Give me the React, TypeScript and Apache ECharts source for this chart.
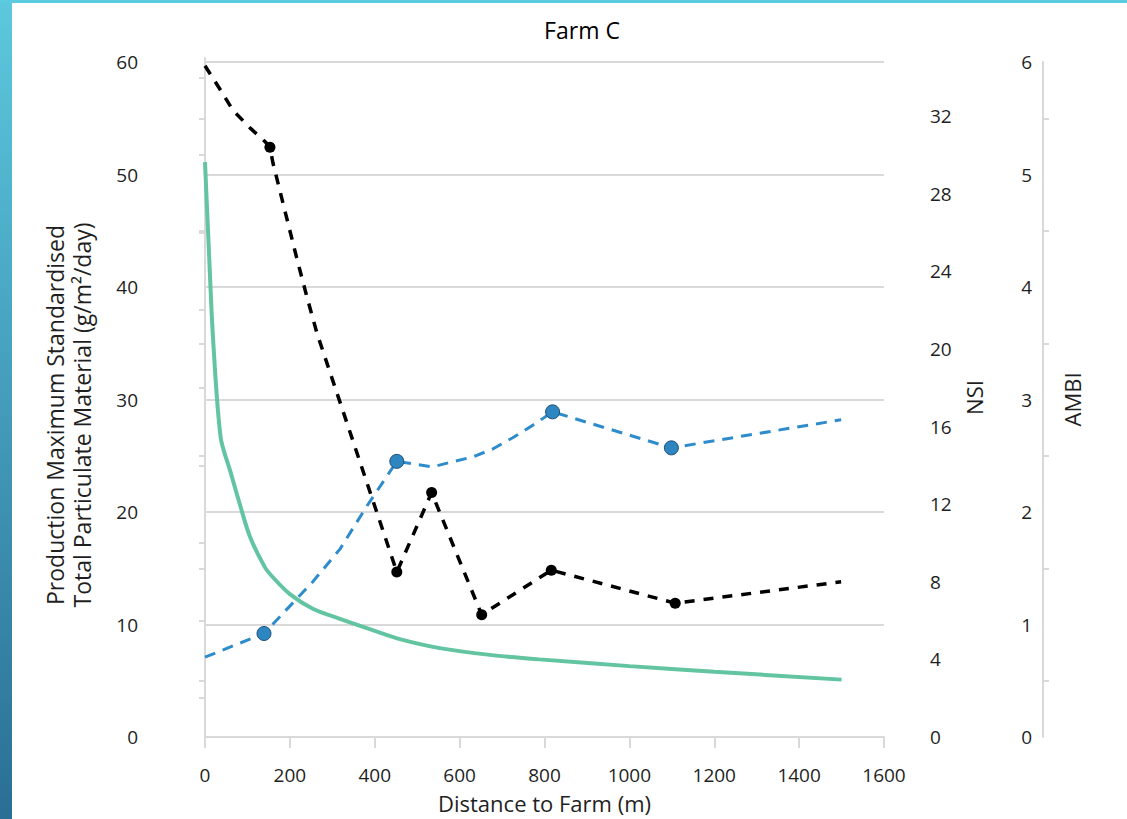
import React, { useEffect, useRef } from 'react';
import * as echarts from 'echarts';

const chartTitle = 'Farm C';
const xAxisName = 'Distance to Farm (m)';
const leftAxisName = 'Production Maximum Standardised\nTotal Particulate Material (g/m²/day)';
const nsiAxisName = 'NSI';
const ambiAxisName = 'AMBI';

// Total particulate material curve (left axis)
const ptpmX = [0, 9, 19, 37, 59, 82, 106, 141, 160, 200, 254, 318, 395, 459, 553, 671, 788, 1000, 1200, 1500];
const ptpmY = [51.1, 43.4, 35.4, 26.6, 23.7, 20.7, 17.8, 15.1, 14.2, 12.7, 11.4, 10.5, 9.5, 8.7, 7.9, 7.3, 6.9, 6.3, 5.8, 5.1];

// NSI (black dashed)
const nsiLineX = [0, 35, 66, 106, 141, 153, 160, 184, 216, 240, 264, 452, 534, 652, 816, 1108, 1499];
const nsiLineY = [34.6, 33.4, 32.3, 31.4, 30.7, 30.4, 29.6, 27.5, 24.7, 22.7, 20.8, 8.5, 12.6, 6.3, 8.6, 6.9, 8.0];
const nsiMarkX = [153, 452, 534, 652, 816, 1108];
const nsiMarkY = [30.4, 8.5, 12.6, 6.3, 8.6, 6.9];

// AMBI (blue dashed)
const ambiLineX = [0, 139, 254, 318, 381, 452, 536, 576, 631, 678, 725, 772, 819, 1099, 1499];
const ambiLineY = [0.71, 0.92, 1.38, 1.67, 2.05, 2.45, 2.40, 2.44, 2.49, 2.56, 2.66, 2.77, 2.89, 2.57, 2.82];
const ambiMarkX = [139, 452, 819, 1099];
const ambiMarkY = [0.92, 2.45, 2.89, 2.57];

const nsiTickValues = [2, 6, 10, 14, 18, 22, 26, 30, 34];
const nsiLabelValues = [0, 4, 8, 12, 16, 20, 24, 28, 32];

const zip = (xs: number[], ys: number[]) => xs.map((x, i) => [x, ys[i]]);

const FONT = 'Open Sans';
const AXIS_COLOR = '#d9d9d9';
const LABEL_COLOR = '#1f1f1f';

export default function App() {
  const ref = useRef<HTMLDivElement>(null);

  useEffect(() => {
    document.body.style.margin = '0';
    if (!ref.current) return;
    const chart = echarts.init(ref.current, undefined, { renderer: 'svg' });

    const axisLine = { show: true, lineStyle: { color: AXIS_COLOR, width: 2 } };
    const axisLabel = { color: LABEL_COLOR, fontSize: 19, fontFamily: FONT };
    const nameStyle = { color: LABEL_COLOR, fontSize: 22, fontFamily: FONT };

    chart.setOption({
      animation: false,
      backgroundColor: '#ffffff',
      textStyle: { fontFamily: FONT },
      graphic: [
        {
          type: 'rect',
          shape: { x: 0, y: 0, width: 12, height: 819 },
          style: {
            fill: new echarts.graphic.LinearGradient(0, 0, 0, 1, [
              { offset: 0, color: '#5cc8de' },
              { offset: 1, color: '#2a6f95' },
            ]),
          },
          silent: true,
        },
        {
          type: 'rect',
          shape: { x: 0, y: 0, width: 1127, height: 3 },
          style: { fill: '#5ccbe0' },
          silent: true,
        },
        {
          type: 'text',
          x: 582,
          y: 30,
          style: {
            text: chartTitle,
            fontSize: 23,
            fontFamily: FONT,
            fill: '#000000',
            align: 'center',
            verticalAlign: 'middle',
          },
        },
        {
          type: 'text',
          x: 68,
          y: 415,
          rotation: Math.PI / 2,
          style: {
            text: leftAxisName,
            fontSize: 23,
            lineHeight: 27,
            fontFamily: FONT,
            fill: LABEL_COLOR,
            align: 'center',
            verticalAlign: 'middle',
          },
        },
      ],
      grid: [
        { left: 205, right: 243, top: 62, bottom: 78, containLabel: false },
        { left: 205, right: 243, top: 58, bottom: 82, containLabel: false },
      ],
      xAxis: [
        {
          type: 'value',
          gridIndex: 0,
          min: 0,
          max: 1600,
          interval: 200,
          axisLine,
          axisTick: { show: true, length: 11, lineStyle: { color: AXIS_COLOR, width: 2 } },
          axisLabel: { ...axisLabel, margin: 28, formatter: (v: number) => String(v) },
          splitLine: { show: false },
          name: xAxisName,
          nameLocation: 'middle',
          nameGap: 55,
          nameTextStyle: nameStyle,
        },
        {
          type: 'value',
          gridIndex: 1,
          min: 0,
          max: 1600,
          show: false,
        },
      ],
      yAxis: [
        {
          type: 'value',
          gridIndex: 0,
          position: 'left',
          offset: 54,
          min: 0,
          max: 60,
          interval: 10,
          axisLine,
          axisTick: { show: false },
          minorTick: { show: true, splitNumber: 2, length: 6, lineStyle: { color: AXIS_COLOR, width: 2 } },
          axisLabel: { ...axisLabel, margin: 13 },
          splitLine: { show: true, lineStyle: { color: AXIS_COLOR, width: 2 } },
        },
        {
          type: 'value',
          gridIndex: 1,
          position: 'right',
          offset: 35,
          min: 0,
          max: 35,
          axisLine,
          axisTick: {
            show: true,
            inside: true,
            length: 6,
            customValues: nsiTickValues,
            lineStyle: { color: AXIS_COLOR, width: 2 },
          },
          axisLabel: { ...axisLabel, margin: 11, customValues: nsiLabelValues },
          splitLine: { show: false },
          name: nsiAxisName,
          nameLocation: 'middle',
          nameGap: 37,
          nameTextStyle: nameStyle,
        },
        {
          type: 'value',
          gridIndex: 0,
          position: 'right',
          offset: 159,
          min: 0,
          max: 6,
          interval: 1,
          axisLine,
          axisTick: { show: false },
          minorTick: { show: true, splitNumber: 2, length: 6, lineStyle: { color: AXIS_COLOR, width: 2 } },
          axisLabel: { ...axisLabel, margin: 11, inside: true },
          splitLine: { show: false },
          name: ambiAxisName,
          nameLocation: 'middle',
          nameGap: 18,
          nameTextStyle: nameStyle,
        },
      ],
      series: [
        {
          name: 'Total Particulate Material',
          type: 'line',
          xAxisIndex: 0,
          yAxisIndex: 0,
          data: zip(ptpmX, ptpmY),
          showSymbol: false,
          smooth: 0.3,
          lineStyle: { color: '#62c4a0', width: 4 },
          z: 2,
        },
        {
          name: 'AMBI',
          type: 'line',
          xAxisIndex: 0,
          yAxisIndex: 2,
          data: zip(ambiLineX, ambiLineY),
          showSymbol: false,
          lineStyle: { color: '#2e8bcc', width: 3, type: [11, 8] },
          z: 3,
        },
        {
          name: 'NSI',
          type: 'line',
          xAxisIndex: 1,
          yAxisIndex: 1,
          data: zip(nsiLineX, nsiLineY),
          showSymbol: false,
          lineStyle: { color: '#000000', width: 3.5, type: [10, 9] },
          z: 3,
        },
        {
          name: 'AMBI samples',
          type: 'scatter',
          xAxisIndex: 0,
          yAxisIndex: 2,
          data: zip(ambiMarkX, ambiMarkY),
          symbol: 'circle',
          symbolSize: 14,
          itemStyle: { color: '#2e86c1', borderColor: '#1f4f78', borderWidth: 1, opacity: 1 },
          z: 5,
        },
        {
          name: 'NSI samples',
          type: 'scatter',
          xAxisIndex: 1,
          yAxisIndex: 1,
          data: zip(nsiMarkX, nsiMarkY),
          symbol: 'circle',
          symbolSize: 11,
          itemStyle: { color: '#000000', opacity: 1 },
          z: 5,
        },
      ],
    });

    return () => {
      chart.dispose();
    };
  }, []);

  return <div ref={ref} style={{ width: 1127, height: 819 }} />;
}
